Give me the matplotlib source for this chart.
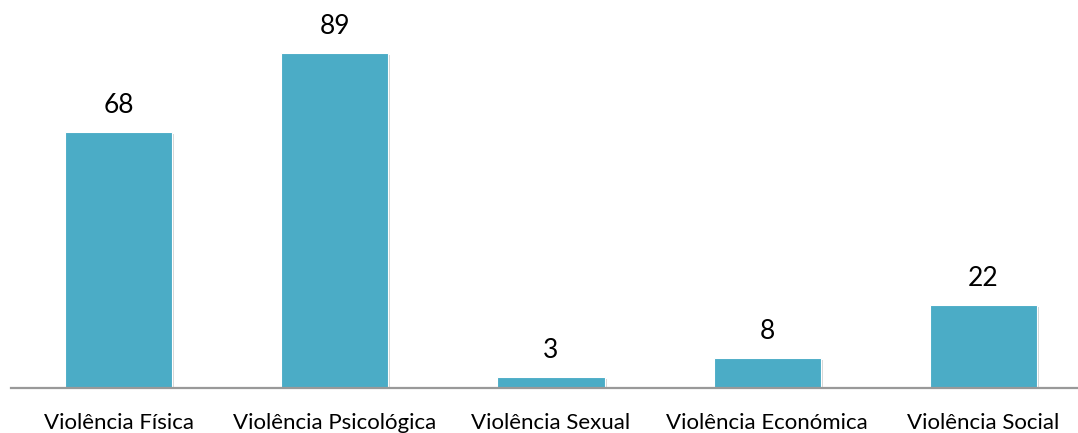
import matplotlib
matplotlib.use("Agg")
import matplotlib.pyplot as plt
import matplotlib.patheffects as pe

categories = ["Violência Física", "Violência Psicológica", "Violência Sexual",
              "Violência Económica", "Violência Social"]
values = [68, 89, 3, 8, 22]

plt.rcParams['font.family'] = ['Lato', 'DejaVu Sans']

W, H = 1078, 433
fig = plt.figure(figsize=(W / 100, H / 100), dpi=100)
left = 10.5 / W
right = 1091.5 / W
bottom = (H - 388) / H
top = (H - 12) / H
ax = fig.add_axes([left, bottom, right - left, top - bottom])

x = range(len(categories))
bars = ax.bar(x, values, width=0.495, color="#4BACC6", edgecolor="white",
              linewidth=0.8, zorder=3)
for b in bars:
    b.set_path_effects([pe.SimplePatchShadow(offset=(1.5, -1.5), shadow_rgbFace="#bbbbbb", alpha=0.6),
                        pe.Normal()])

for xi, v in zip(x, values):
    ax.annotate(str(v), (xi, v), xytext=(0, 10), textcoords="offset points",
                ha="center", va="bottom", fontsize=19, color="black")

ax.set_xlim(-0.5, 4.5)
ax.set_ylim(0, 100)
ax.set_xticks(list(x))
ax.set_xticklabels(categories, fontsize=16)
ax.tick_params(axis="x", length=0, pad=18)
ax.set_yticks([])
for s in ["top", "right", "left"]:
    ax.spines[s].set_visible(False)
ax.spines["bottom"].set_color("#999999")
ax.spines["bottom"].set_linewidth(1.6)
ax.spines["bottom"].set_zorder(4)

fig.savefig("out.png", dpi=100)
